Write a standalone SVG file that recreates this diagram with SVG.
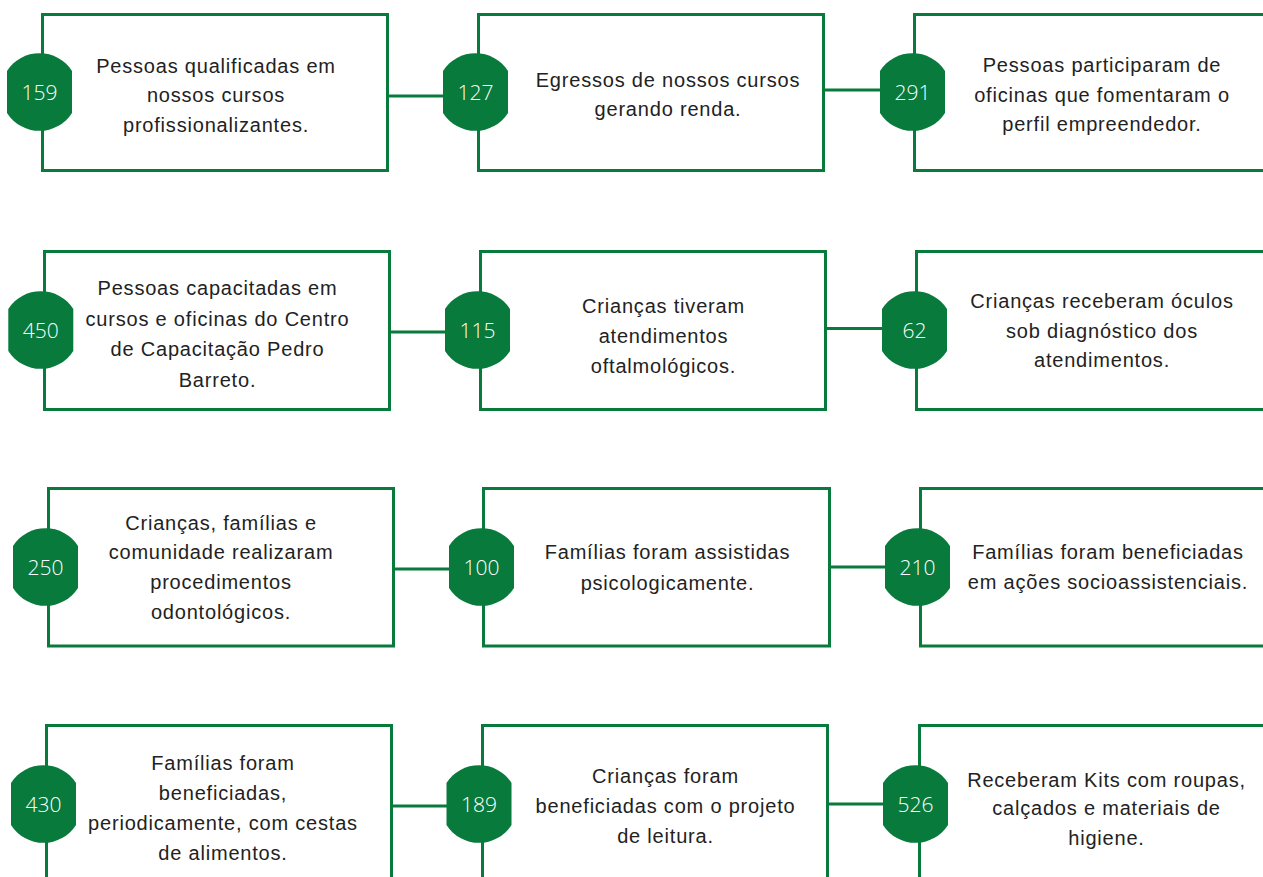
<svg xmlns="http://www.w3.org/2000/svg" xmlns:xlink="http://www.w3.org/1999/xlink" width="1263" height="877" viewBox="0 0 1263 877">
<style>
.box{fill:#ffffff;stroke:#077a3c;stroke-width:3}
.badge{fill:#077a3c}
.num{font-family:"Open Sans","Liberation Sans",sans-serif;font-weight:300;font-size:21px;fill:#ffffff;text-anchor:middle}
.txt{font-family:"Liberation Sans","Noto Sans",sans-serif;font-size:20px;letter-spacing:0.8px;fill:#222222;text-anchor:middle}
.conn{stroke:#077a3c;stroke-width:3;fill:none}
</style>
<defs>
<path id="bdg" d="M-32.5,-21 A38.5,38.5 0 0 1 32.5,-21 L32.5,21 A38.5,38.5 0 0 1 -32.5,21 Z"/>
</defs>
<rect width="1263" height="877" fill="#ffffff"/>
<g id="connectors">
<line class="conn" x1="389" y1="96" x2="445" y2="96"/>
<line class="conn" x1="825" y1="90" x2="882" y2="90"/>
<line class="conn" x1="391" y1="332" x2="447" y2="332"/>
<line class="conn" x1="827" y1="328.5" x2="884" y2="328.5"/>
<line class="conn" x1="395" y1="569" x2="451" y2="569"/>
<line class="conn" x1="831" y1="567" x2="887" y2="567"/>
<line class="conn" x1="393" y1="806" x2="449" y2="806"/>
<line class="conn" x1="829" y1="804" x2="885" y2="804"/>
</g>
<g id="n159">
<rect class="box" x="42.5" y="14.5" width="345" height="156"/>
<use xlink:href="#bdg" x="39.5" y="92" class="badge"/>
<text class="num" x="39.5" y="99.5">159</text>
<text class="txt" x="216" y="72.5">Pessoas qualificadas em</text>
<text class="txt" x="216" y="102">nossos cursos</text>
<text class="txt" x="216" y="131.5">profissionalizantes.</text>
</g>
<g id="n127">
<rect class="box" x="478.5" y="14.5" width="345" height="156"/>
<use xlink:href="#bdg" x="475.5" y="92" class="badge"/>
<text class="num" x="475.5" y="99.5">127</text>
<text class="txt" x="668" y="86.5">Egressos de nossos cursos</text>
<text class="txt" x="668" y="116">gerando renda.</text>
</g>
<g id="n291">
<rect class="box" x="914.5" y="14.5" width="400" height="156"/>
<use xlink:href="#bdg" x="912.5" y="92" class="badge"/>
<text class="num" x="912.5" y="99.5">291</text>
<text class="txt" x="1102" y="72">Pessoas participaram de</text>
<text class="txt" x="1102" y="101.5">oficinas que fomentaram o</text>
<text class="txt" x="1102" y="131">perfil empreendedor.</text>
</g>
<g id="n450">
<rect class="box" x="44.5" y="251.5" width="345" height="158"/>
<use xlink:href="#bdg" x="40.8" y="330" class="badge"/>
<text class="num" x="40.8" y="337.5">450</text>
<text class="txt" x="217.5" y="295">Pessoas capacitadas em</text>
<text class="txt" x="217.5" y="325.5">cursos e oficinas do Centro</text>
<text class="txt" x="217.5" y="356">de Capacitação Pedro</text>
<text class="txt" x="217.5" y="386.5">Barreto.</text>
</g>
<g id="n115">
<rect class="box" x="480.5" y="251.5" width="345" height="158"/>
<use xlink:href="#bdg" x="477.5" y="330" class="badge"/>
<text class="num" x="477.5" y="337.5">115</text>
<text class="txt" x="663.5" y="313">Crianças tiveram</text>
<text class="txt" x="663.5" y="343">atendimentos</text>
<text class="txt" x="663.5" y="373">oftalmológicos.</text>
</g>
<g id="n62">
<rect class="box" x="916.5" y="251.5" width="400" height="158"/>
<use xlink:href="#bdg" x="914.5" y="330" class="badge"/>
<text class="num" x="914.5" y="337.5">62</text>
<text class="txt" x="1102" y="308">Crianças receberam óculos</text>
<text class="txt" x="1102" y="337.5">sob diagnóstico dos</text>
<text class="txt" x="1102" y="367">atendimentos.</text>
</g>
<g id="n250">
<rect class="box" x="48.5" y="488.5" width="345" height="157.5"/>
<use xlink:href="#bdg" x="45.5" y="567" class="badge"/>
<text class="num" x="45.5" y="574.5">250</text>
<text class="txt" x="221" y="529.5">Crianças, famílias e</text>
<text class="txt" x="221" y="559">comunidade realizaram</text>
<text class="txt" x="221" y="589">procedimentos</text>
<text class="txt" x="221" y="619">odontológicos.</text>
</g>
<g id="n100">
<rect class="box" x="483.5" y="488.5" width="346" height="157.5"/>
<use xlink:href="#bdg" x="481.5" y="567" class="badge"/>
<text class="num" x="481.5" y="574.5">100</text>
<text class="txt" x="667.5" y="559">Famílias foram assistidas</text>
<text class="txt" x="667.5" y="589.5">psicologicamente.</text>
</g>
<g id="n210">
<rect class="box" x="920.5" y="488.5" width="400" height="157.5"/>
<use xlink:href="#bdg" x="917.5" y="567" class="badge"/>
<text class="num" x="917.5" y="574.5">210</text>
<text class="txt" x="1108" y="559">Famílias foram beneficiadas</text>
<text class="txt" x="1108" y="589">em ações socioassistenciais.</text>
</g>
<g id="n430">
<rect class="box" x="46.5" y="725.5" width="345" height="200"/>
<use xlink:href="#bdg" x="43.5" y="804" class="badge"/>
<text class="num" x="43.5" y="811.5">430</text>
<text class="txt" x="223" y="770">Famílias foram</text>
<text class="txt" x="223" y="800">beneficiadas,</text>
<text class="txt" x="223" y="829.5">periodicamente, com cestas</text>
<text class="txt" x="223" y="860">de alimentos.</text>
</g>
<g id="n189">
<rect class="box" x="482.5" y="725.5" width="345" height="200"/>
<use xlink:href="#bdg" x="479" y="804" class="badge"/>
<text class="num" x="479" y="811.5">189</text>
<text class="txt" x="665.5" y="782.5">Crianças foram</text>
<text class="txt" x="665.5" y="812.5">beneficiadas com o projeto</text>
<text class="txt" x="665.5" y="843">de leitura.</text>
</g>
<g id="n526">
<rect class="box" x="919.5" y="725.5" width="400" height="200"/>
<use xlink:href="#bdg" x="915.5" y="804" class="badge"/>
<text class="num" x="915.5" y="811.5">526</text>
<text class="txt" x="1106.5" y="786.5">Receberam Kits com roupas,</text>
<text class="txt" x="1106.5" y="815">calçados e materiais de</text>
<text class="txt" x="1106.5" y="845">higiene.</text>
</g>
</svg>
